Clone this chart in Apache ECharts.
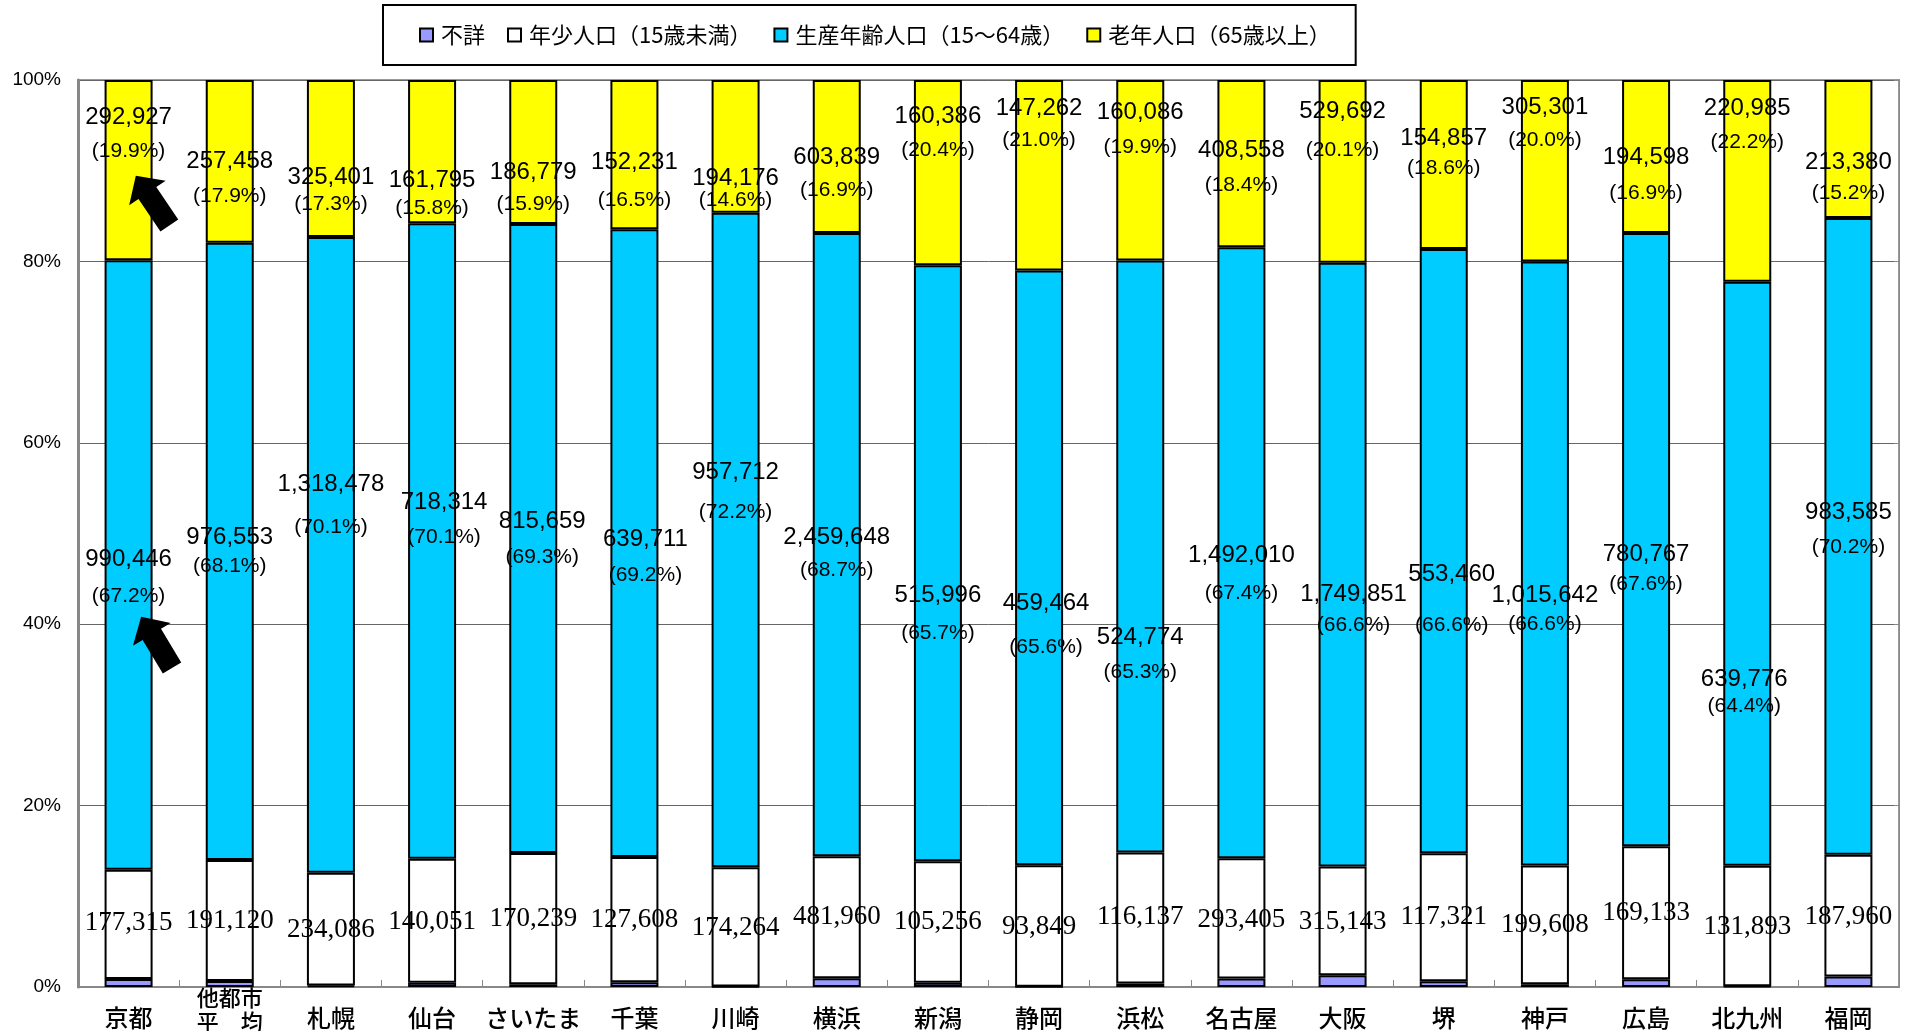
<!DOCTYPE html>
<html>
<head>
<meta charset="utf-8">
<script src="https://cdn.jsdelivr.net/npm/echarts@6/dist/echarts.min.js"></script>
<style>
  html, body { margin: 0; padding: 0; background: #fff; }
  #chart { width: 1908px; height: 1031px; }
</style>
</head>
<body>
<div id="chart"></div>
<script>
// ---- data: population by age group (persons) ----
const cities = ['京都', '他都市\n平　均', '札幌', '仙台', 'さいたま', '千葉', '川崎', '横浜', '新潟',
                '静岡', '浜松', '名古屋', '大阪', '堺', '神戸', '広島', '北九州', '福岡'];
const agedPop = [292927, 257458, 325401, 161795, 186779, 152231, 194176, 603839, 160386,
                 147262, 160086, 408558, 529692, 154857, 305301, 194598, 220985, 213380];
const workingPop = [990446, 976553, 1318478, 718314, 815659, 639711, 957712, 2459648, 515996,
                    459464, 524774, 1492010, 1749851, 553460, 1015642, 780767, 639776, 983585];
const youngPop = [177315, 191120, 234086, 140051, 170239, 127608, 174264, 481960, 105256,
                  93849, 116137, 293405, 315143, 117321, 199608, 169133, 131893, 187960];
const unknownPop = [13000, 9600, 2900, 4900, 3600, 4800, 900, 34200, 3600,
                    200, 3000, 21000, 34100, 5300, 4800, 9900, 900, 16400];
const percentTicks = [0, 20, 40, 60, 80, 100];

// ---- label placement: axis level (%) of each label line, plus sideways nudges (px) ----
const agedNumAt  = [95.9, 91.0, 89.3, 88.9, 89.8, 90.9, 89.2, 91.5, 96.0, 96.9, 96.4, 92.2, 96.5, 93.6, 97.0, 91.5, 96.9, 90.9];
const agedPctAt  = [92.1, 87.2, 86.3, 85.9, 86.3, 86.8, 86.8, 87.9, 92.3, 93.4, 92.6, 88.4, 92.3, 90.3, 93.4, 87.5, 93.1, 87.5];
const workNumAt  = [47.2, 49.6, 55.4, 53.4, 51.3, 49.4, 56.7, 49.6, 43.2, 42.3, 38.6, 47.6, 43.3, 45.5, 43.2, 47.7, 33.9, 52.3];
const workPctAt  = [43.1, 46.4, 50.7, 49.6, 47.4, 45.4, 52.4, 45.9, 39.0, 37.5, 34.7, 43.4, 39.9, 39.9, 40.0, 44.4, 31.0, 48.5];
const youngNumAt = [7.1, 7.3, 6.3, 7.2, 7.5, 7.4, 6.5, 7.7, 7.2, 6.6, 7.7, 7.4, 7.2, 7.7, 6.8, 8.2, 6.6, 7.7];
const workShiftX = [0, 0, 0, 12, 9, 11, 0, 0, 0, 7, 0, 0, 11, 8, 0, 0, -3, 0];

// pointer arrows on the Kyoto bar
const arrowMarks = [
  { cat: 0, level: 86.7, dx: 24, tilt: 34 },
  { cat: 0, level: 38.0, dx: 28, tilt: 31 }
];

const SANS = "'Liberation Sans', 'Noto Sans CJK JP', sans-serif";
const SERIF = "'Liberation Serif', 'DejaVu Serif', serif";
const CJK = "'Noto Sans CJK JP', sans-serif";

const totals = cities.map((_, i) => agedPop[i] + workingPop[i] + youngPop[i] + unknownPop[i]);
const shareOf = arr => arr.map((v, i) => v / totals[i] * 100);

const groups = [
  { name: '不詳', pop: unknownPop, color: '#9999FF' },
  { name: '年少人口（15歳未満）', pop: youngPop, color: '#FFFFFF' },
  { name: '生産年齢人口（15～64歳）', pop: workingPop, color: '#00CCFF' },
  { name: '老年人口（65歳以上）', pop: agedPop, color: '#FFFF00' }
];
const shares = groups.map(g => shareOf(g.pop));
const fmt = v => v.toLocaleString('en-US');

const chart = echarts.init(document.getElementById('chart'), null, { renderer: 'canvas' });

const option = {
  animation: false,
  backgroundColor: '#ffffff',
  grid: {
    left: 78, right: 9, top: 80, bottom: 44,
    containLabel: false,
    outerBoundsMode: 'none',
    show: true, borderColor: '#999999', borderWidth: 2, backgroundColor: 'transparent'
  },
  legend: {
    left: 383, top: 5,
    padding: [19, 25, 19, 36],
    backgroundColor: '#ffffff',
    borderColor: '#000000', borderWidth: 2,
    itemWidth: 13, itemHeight: 13, itemGap: 22,
    icon: 'rect',
    textStyle: { fontFamily: CJK, fontSize: 22, color: '#000', padding: [0, 0, 0, 3] },
    data: groups.map(g => g.name)
  },
  xAxis: {
    type: 'category',
    data: cities.map(c => c.indexOf('\n') >= 0
      ? { value: c, textStyle: { fontSize: 22, lineHeight: 24, verticalAlign: 'middle' } }
      : c),
    axisLine: { lineStyle: { color: '#888888', width: 2 } },
    axisTick: { show: true, inside: true, length: 7, lineStyle: { color: '#888888', width: 1 } },
    axisLabel: {
      interval: 0, margin: 31, verticalAlign: 'middle',
      fontFamily: CJK, fontSize: 24, fontWeight: 500, color: '#000', lineHeight: 24,
      // two-line names get a short trailing spacer so they sit a little higher
      formatter: v => v.indexOf('\n') >= 0 ? v + '\n{gap| }' : v,
      rich: { gap: { fontSize: 2, lineHeight: 16 } }
    },
    splitLine: { show: false }
  },
  yAxis: [{
    type: 'value', min: percentTicks[0], max: percentTicks[percentTicks.length - 1], interval: 20,
    axisLine: { show: true, lineStyle: { color: '#888888', width: 3 } },
    axisTick: { show: false },
    axisLabel: { formatter: '{value}%', fontFamily: SANS, fontSize: 19, color: '#000', margin: 17 },
    splitLine: { lineStyle: { color: '#666666', width: 1 } }
  }, {
    type: 'value', min: 0, max: 100, interval: 20, position: 'right',
    axisLine: { show: true, lineStyle: { color: '#888888', width: 1 } },
    axisTick: { show: true, inside: true, length: 5, lineStyle: { color: '#888888' } },
    axisLabel: { show: false },
    splitLine: { show: false }
  }],
  series: groups.map((g, s) => ({
    name: g.name,
    type: 'bar',
    stack: 'population',
    barWidth: 48,
    emphasis: { disabled: true },
    itemStyle: { color: g.color, borderColor: '#000000', borderWidth: 2 },
    data: shares[s]
  }))
};

// arrows drawn as markers on the top series
option.series[3].markPoint = {
  silent: true,
  symbol: 'path://M20.5,0 L41,19 L30.5,19 L30.5,55 L10.5,55 L10.5,19 L0,19 Z',
  symbolSize: [44, 60],
  itemStyle: { color: '#000000', borderWidth: 0 },
  label: { show: false },
  data: arrowMarks.map(a => ({
    coord: [a.cat, a.level], symbolRotate: a.tilt, symbolOffset: [a.dx, 0]
  }))
};

chart.setOption(option);

// ---- place the data labels using the chart's own value scale ----
const yPx = v => chart.convertToPixel({ gridIndex: 0 }, [0, v])[1];
function segCenter(s, i) {
  let start = 0;
  for (let k = 0; k < s; k++) start += shares[k][i];
  return yPx(start + shares[s][i] / 2);
}

function twoLineItems(s, numAt, pctAt, shiftX) {
  const pop = groups[s].pop;
  return cities.map((_, i) => {
    const yn = yPx(numAt[i]);
    const yp = yPx(pctAt[i]);
    const h1 = 24;
    const g = yp - yn;
    const h2 = Math.max(2 * g - h1, 12);
    const blockCenter = yn - h1 / 2 + (h1 + h2) / 2;
    return {
      value: shares[s][i],
      label: {
        show: true,
        position: 'inside',
        offset: [shiftX ? shiftX[i] : 0, blockCenter - segCenter(s, i)],
        color: '#000',
        formatter: '{n|' + fmt(pop[i]) + '}\n{p|(' + shares[s][i].toFixed(1) + '%)}',
        rich: {
          n: { fontFamily: SANS, fontSize: 24, lineHeight: h1, color: '#000' },
          p: { fontFamily: SANS, fontSize: 21, lineHeight: h2, color: '#000' }
        }
      }
    };
  });
}

const youngItems = cities.map((_, i) => ({
  value: shares[1][i],
  label: {
    show: true,
    position: 'inside',
    offset: [0, yPx(youngNumAt[i]) - segCenter(1, i)],
    color: '#000',
    fontFamily: SERIF,
    fontSize: 27,
    formatter: fmt(youngPop[i])
  }
}));

chart.setOption({
  series: [
    {},
    { data: youngItems },
    { data: twoLineItems(2, workNumAt, workPctAt, workShiftX) },
    { data: twoLineItems(3, agedNumAt, agedPctAt, null) }
  ]
});
</script>
</body>
</html>
